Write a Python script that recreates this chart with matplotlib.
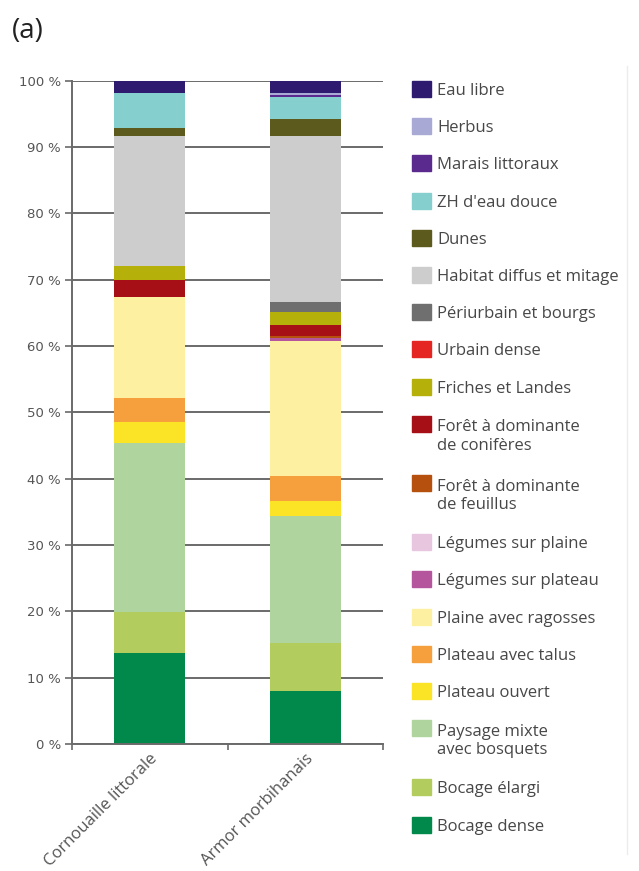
import matplotlib.pyplot as plt
from matplotlib.patches import Rectangle
from matplotlib.transforms import Bbox, TransformedBbox

plt.rcParams["font.family"] = ["Open Sans", "DejaVu Sans"]

W, H = 639, 871

regions = ["Cornouaille littorale", "Armor morbihanais"]

# landscape classes, bottom of the stack first
classes = [
    "Bocage dense", "Bocage élargi", "Paysage mixte\navec bosquets", "Plateau ouvert",
    "Plateau avec talus", "Plaine avec ragosses", "Légumes sur plateau", "Légumes sur plaine",
    "Forêt à dominante\nde feuillus", "Forêt à dominante\nde conifères", "Friches et Landes",
    "Urbain dense", "Périurbain et bourgs", "Habitat diffus et mitage", "Dunes",
    "ZH d'eau douce", "Marais littoraux", "Herbus", "Eau libre",
]
colors = [
    "#00894a", "#b3cc5e", "#b0d49e", "#fbe325",
    "#f5a03c", "#fdf0a0", "#b5559d", "#e8c6e0",
    "#b5500e", "#a50f15", "#b5b10a",
    "#e52521", "#6f6f6f", "#cdcdcd", "#5c5a1c",
    "#86cfcf", "#5b2a8e", "#a9a9d6", "#2e1a6e",
]

# share of each class (%) per region
cornouaille = [13.7, 6.2, 25.5, 3.1, 3.7, 15.2, 0.0, 0.0, 0.0, 2.5, 2.2,
               0.0, 0.0, 19.6, 1.2, 5.3, 0.0, 0.0, 1.8]
armor = [8.0, 7.3, 19.1, 2.3, 3.7, 20.3, 0.5, 0.0, 0.3, 1.7, 1.9,
         0.0, 1.5, 25.1, 2.5, 3.4, 0.2, 0.4, 1.8]

yticks = [0, 10, 20, 30, 40, 50, 60, 70, 80, 90, 100]

fig = plt.figure(figsize=(W / 100, H / 100), dpi=100)
ax = fig.add_axes([72 / W, 1 - 744 / H, (383 - 72) / W, (744 - 80.7) / H])

grey = "#6a6a6a"
x = [0, 1]
bottom = [0.0, 0.0]
for i, (cls, col) in enumerate(zip(classes, colors)):
    vals = [cornouaille[i], armor[i]]
    ax.bar(x, vals, width=0.455, bottom=bottom, color=col, linewidth=0, zorder=2)
    bottom = [b + v for b, v in zip(bottom, vals)]

ax.set_xlim(-0.5, 1.5)
ax.set_ylim(0, 100)
ax.set_yticks(yticks)
ax.set_yticklabels([f"{t} %" for t in yticks], fontsize=9.5, color="#555555",
                   family="DejaVu Sans")
ax.yaxis.grid(True, color=grey, linewidth=1.4, zorder=1)
ax.set_axisbelow(True)

ax.set_xticks([-0.5, 0.5, 1.5])
ax.set_xticklabels([])
ax.set_xticks(x, minor=True)
ax.set_xticklabels(regions, minor=True, rotation=45, ha="right",
                   rotation_mode="anchor", fontsize=12, color="#555555")
ax.tick_params(axis="x", which="minor", length=0, pad=5)
ax.tick_params(axis="x", which="major", length=4, width=1.2, color=grey, direction="out")
ax.tick_params(axis="y", length=5, width=1.2, color=grey, pad=3)

for side in ["top", "right"]:
    ax.spines[side].set_visible(False)
for side in ["left", "bottom"]:
    ax.spines[side].set_color(grey)
    ax.spines[side].set_linewidth(1.4)

# legend drawn by hand, top entry first; text clipped at the frame edge
clip = TransformedBbox(Bbox.from_extents(0, 0, 627 / W, 1), fig.transFigure)
line_h = 20
ypix = 89
for cls, col in zip(classes[::-1], colors[::-1]):
    extra = cls.count("\n")
    fig.patches.append(Rectangle((412 / W, 1 - (ypix + 8) / H), 19 / W, 16 / H,
                                 transform=fig.transFigure, color=col))
    # baseline of a multi-line label sits on its last line
    t = fig.text(437 / W, 1 - (ypix + 6 + line_h * extra) / H, cls, fontsize=12,
                 color="#474747", va="baseline", ha="left", linespacing=1.2)
    t.set_clip_box(clip)
    t.set_clip_on(True)
    ypix += 37.2 + 22 * extra

# faint frame edge at the right
fig.add_artist(plt.Line2D([627 / W, 627 / W], [0.02, 1 - 66 / H],
                          transform=fig.transFigure, color="#ececec", linewidth=1))

fig.text(12 / W, 1 - 31 / H, "(a)", fontsize=20, color="#222222", va="center", ha="left")

fig.savefig("out.png", dpi=100)
